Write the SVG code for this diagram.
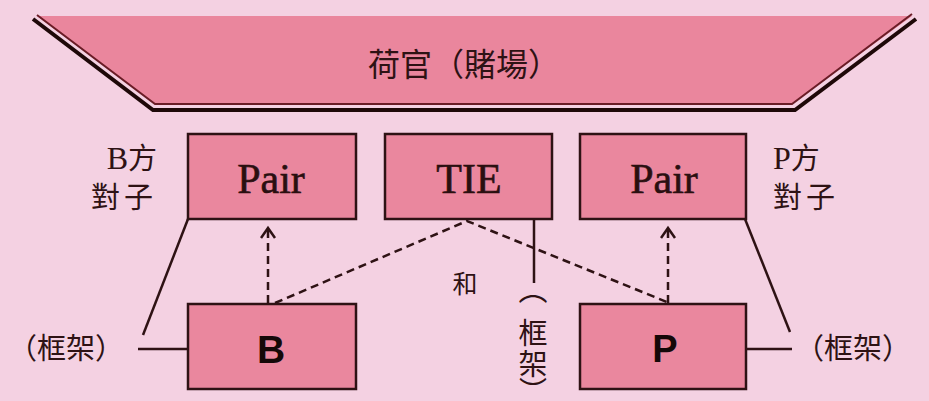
<svg xmlns="http://www.w3.org/2000/svg" width="929" height="401" viewBox="0 0 929 401">
<style>
.box{fill:#ea879e;stroke:#2e1214;stroke-width:2.5}
.ln{fill:none;stroke:#2e1214;stroke-width:2.5}
.dash{fill:none;stroke:#2e1214;stroke-width:2.5;stroke-dasharray:8 5}
.cjk{font-family:"Liberation Serif","Noto Sans CJK TC",serif;fill:#2e1214}
.ser{font-family:"Liberation Serif",serif;fill:#2a0f10;stroke:#2a0f10;stroke-width:0.6}
.bold{font-family:"Liberation Sans",sans-serif;font-weight:bold;fill:#150808}
</style>
<defs>
<marker id="chev" markerUnits="userSpaceOnUse" markerWidth="14" markerHeight="18" refX="11" refY="8" orient="auto" viewBox="0 0 14 18">
<path d="M1,1 L11,8 L1,15" fill="none" stroke="#2e1214" stroke-width="2.5"/>
</marker>
</defs>
<rect width="929" height="401" fill="#f4d1e2"/>
<g id="banner">
<polygon points="37,16 912,16 792,104 155,104" fill="#ea869d"/>
<polyline points="33,19 153,110 795,110 916,19" fill="none" stroke="#1e0808" stroke-width="4"/>
<polyline points="37,15 155,104 792,104 912,14" fill="none" stroke="#6a1c26" stroke-width="2"/>
<text x="464" y="76" text-anchor="middle" font-size="32" class="cjk">荷官（賭場）</text>
</g>
<g id="connectors">
<polyline class="ln" points="188,219 143,335"/>
<polyline class="ln" points="138,349 188,349"/>
<polyline class="ln" points="745,219 790,332"/>
<polyline class="ln" points="745,349 792,349"/>
<polyline class="ln" points="534,219 534,283"/>
<polyline class="dash" points="275,303 467,221 667,302"/>
<line class="dash" x1="268" y1="303" x2="268" y2="228" marker-end="url(#chev)"/>
<line class="dash" x1="668" y1="303" x2="668" y2="228" marker-end="url(#chev)"/>
</g>
<g id="pairB">
<rect class="box" x="188" y="134" width="168" height="85"/>
<text x="271" y="193" text-anchor="middle" font-size="42" class="ser">Pair</text>
</g>
<g id="tie">
<rect class="box" x="385" y="134" width="167" height="85"/>
<text x="469" y="193" text-anchor="middle" font-size="42" class="ser">TIE</text>
</g>
<g id="pairP">
<rect class="box" x="580" y="134" width="166" height="85"/>
<text x="664" y="193" text-anchor="middle" font-size="42" class="ser">Pair</text>
</g>
<g id="B">
<rect class="box" x="188" y="304" width="168" height="85"/>
<text x="271" y="363" text-anchor="middle" font-size="39" class="bold">B</text>
</g>
<g id="P">
<rect class="box" x="580" y="304" width="166" height="85"/>
<text x="665" y="362" text-anchor="middle" font-size="38" class="bold">P</text>
</g>
<g id="labels">
<text x="157" y="169" text-anchor="end" font-size="29" class="cjk"><tspan font-size="32">B</tspan>方</text>
<text x="157" y="208" text-anchor="end" font-size="29" class="cjk" letter-spacing="4">對子</text>
<text x="773" y="169" font-size="29" class="cjk"><tspan font-size="32">P</tspan>方</text>
<text x="773" y="208" font-size="29" class="cjk" letter-spacing="4">對子</text>
<text x="8" y="359" font-size="29" class="cjk">（框架）</text>
<text x="795" y="359" font-size="29" class="cjk">（框架）</text>
<text x="465" y="293" text-anchor="middle" font-size="25" class="cjk">和</text>
<text font-size="29" class="cjk" text-anchor="middle"><tspan x="533" y="301">︵</tspan><tspan x="533" y="344">框</tspan><tspan x="533" y="375">架</tspan></text>
<text x="533" y="402" font-size="28" class="cjk" text-anchor="middle">︶</text>
</g>
</svg>
